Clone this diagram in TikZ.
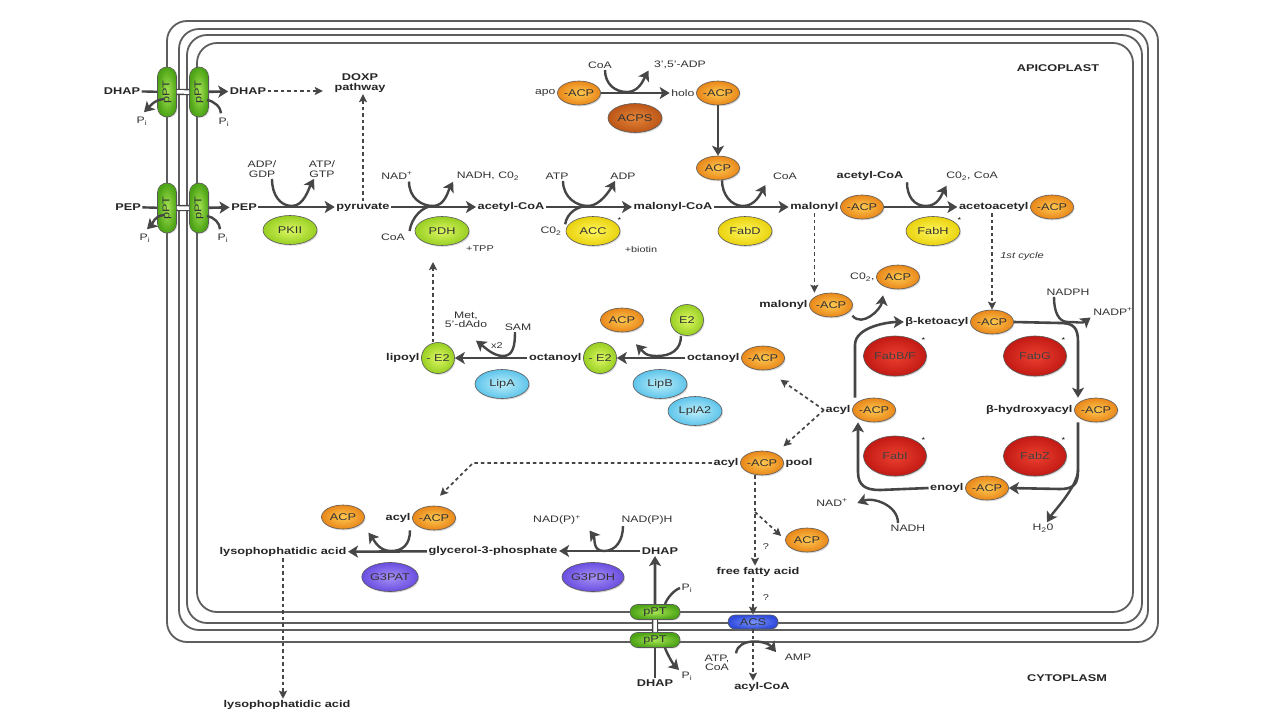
\documentclass[tikz,border=0pt]{standalone}
\usepackage{fontspec}
\setmainfont{Liberation Sans}[FakeStretch=1.3]
\usepackage{xcolor}
\usepackage{tikz}
\usetikzlibrary{arrows.meta,positioning,calc,shapes.geometric,shapes.misc,shadows}

\definecolor{ink}{HTML}{464646}
\definecolor{membr}{HTML}{5E5E5E}
\definecolor{acpL}{HTML}{FFC850}
\definecolor{acpD}{HTML}{E8871A}
\definecolor{acpsL}{HTML}{E58436}
\definecolor{acpsD}{HTML}{BC5618}
\definecolor{limeL}{HTML}{DDF763}
\definecolor{limeD}{HTML}{98CF22}
\definecolor{yelL}{HTML}{FFF65E}
\definecolor{yelD}{HTML}{E9D20E}
\definecolor{redL}{HTML}{EC4030}
\definecolor{redD}{HTML}{C21A14}
\definecolor{skyL}{HTML}{BDEFFB}
\definecolor{skyD}{HTML}{5EC4EA}
\definecolor{violL}{HTML}{A690F6}
\definecolor{violD}{HTML}{6A4EE0}
\definecolor{acsL}{HTML}{7A95F8}
\definecolor{acsD}{HTML}{2F4BDC}
\definecolor{pptL}{HTML}{A6E453}
\definecolor{pptD}{HTML}{4DA416}

\tikzset{
  met label/.style = {font=\fontsize{9.8}{10}\selectfont\bfseries, text=black!85,
                      inner sep=1.5pt, align=center},
  cof label/.style = {font=\fontsize{9.4}{9.4}\selectfont, text=black!80,
                      inner sep=1.5pt, align=center},
  note label/.style= {font=\fontsize{8.4}{9}\selectfont, text=black!80, inner sep=1pt},
  ast/.style       = {font=\fontsize{7}{7}\selectfont, inner sep=0pt},
  blob/.style      = {ellipse, draw=ink!90, line width=0.6pt, inner sep=0pt,
                      font=\fontsize{9.8}{10}\selectfont, text=black!80,
                      drop shadow={opacity=0.3, shadow xshift=1pt, shadow yshift=-1.3pt}},
  acp node/.style  = {blob, minimum width=43pt, minimum height=24pt,
                      inner color=acpL, outer color=acpD},
  enz node/.style  = {blob, minimum width=54pt, minimum height=29pt,
                      inner color=#1L, outer color=#1D},
  fab node/.style  = {blob, minimum width=63pt, minimum height=40pt,
                      inner color=redL, outer color=redD, text=black!75},
  e2 node/.style   = {blob, minimum width=33pt, minimum height=31pt,
                      inner color=limeL, outer color=limeD},
  ppt node/.style  = {rounded rectangle, draw=ink!90, line width=0.6pt, inner sep=0pt,
                      minimum width=50pt, minimum height=19pt,
                      font=\fontsize{9.8}{10}\selectfont, text=black!80,
                      inner color=#1L, outer color=#1D,
                      drop shadow={opacity=0.25, shadow xshift=1pt, shadow yshift=-1pt}},
  membrane/.style  = {draw=membr, line width=1.8pt, rounded corners=20pt},
  arr/.style       = {-{Stealth[length=10pt, width=12pt, inset=2.5pt]}, line width=2.6pt, draw=ink},
  side arr/.style  = {arr, line width=2.4pt},
  side line/.style = {line width=2.4pt, draw=ink},
  dashed arr/.style= {-{Stealth[length=8pt, width=8pt, inset=1.5pt]}, line width=1.7pt,
                      draw=ink, dash pattern=on 3.5pt off 3pt},
  dbl link/.style  = {draw=ink, line width=1.3pt, double=white, double distance=3.5pt},
}

\begin{document}
\begin{tikzpicture}[x=1pt, y=-1pt, font=\fontsize{9.6}{10}\selectfont]
  \useasboundingbox (0,0) rectangle (1280,720);
  \fill[white] (0,0) rectangle (1280,720);

  % four membranes of the apicoplast
  \draw[membrane] (167,21) rectangle (1158,642);
  \draw[membrane] (179,29) rectangle (1148,630);
  \draw[membrane] (187,35) rectangle (1142,623);
  \draw[membrane] (197,43) rectangle (1133,612);

  \node[met label] (apico) at (1058,68) {APICOPLAST};
  \node[met label] (cyto) at (1067,678) {CYTOPLASM};

  % DHAP import
  \node[met label] (dhapo) at (122,91) {DHAP};
  \node[ppt node=ppt, rotate=90] (pta) at (167,92) {pPT};
  \node[ppt node=ppt, rotate=90] (ptb) at (199,92) {pPT};
  \node[met label] (dhapi) at (248,91) {DHAP};
  \node[cof label] (pia) at (142,121) {P\textsubscript{i}};
  \node[cof label] (pib) at (224,122) {P\textsubscript{i}};
  \node[met label] (doxp) at (360,83) {DOXP\\pathway};
  \draw[side line] (dhapo) -- (pta);
  \draw[dbl link] (pta) -- (ptb);
  \draw[arr] (ptb) -- (dhapi);
  \draw[dashed arr] (dhapi) -- ($(dhapi -| doxp.west)+(-10,0)$);
  \draw[side arr] ([shift={(-3,7)}]pta.center) .. controls +(-10,1) and +(6,-6) .. ([shift={(2,-3)}]pia.north);
  \draw[side line] ([shift={(8,8)}]ptb.center) .. controls +(7,1) and +(0,-6) .. ([shift={(-3,-3)}]pib.north);

  % PEP import and PKII
  \node[met label] (pepo) at (128,207) {PEP};
  \node[ppt node=ppt, rotate=90] (ptc) at (167,208) {pPT};
  \node[ppt node=ppt, rotate=90] (ptd) at (199,208) {pPT};
  \node[met label] (pepi) at (244,207) {PEP};
  \node[cof label] (pic) at (145,238) {P\textsubscript{i}};
  \node[cof label] (pid) at (223,238) {P\textsubscript{i}};
  \draw[side line] (pepo) -- (ptc);
  \draw[dbl link] (ptc) -- (ptd);
  \draw[arr] (ptd) -- (pepi);
  \draw[side arr] ([shift={(-3,7)}]ptc.center) .. controls +(-10,1) and +(6,-6) .. ([shift={(2,-3)}]pic.north);
  \draw[side line] ([shift={(8,8)}]ptd.center) .. controls +(7,1) and +(0,-6) .. ([shift={(-3,-3)}]pid.north);

  \node[met label] (pyr) at (363,207) {pyruvate};
  \node[cof label] (adp) at (262,169) {ADP/\\GDP};
  \node[cof label] (atp) at (322,169) {ATP/\\GTP};
  \node[enz node=lime] (pkii) at (290,230) {PKII};
  \coordinate (pkm) at (292,206);
  \draw[arr] (pepi) -- (pyr);
  \draw[side arr] ([xshift=10pt]adp.south) .. controls +(0,16) and +(-12,0) .. (pkm)
        .. controls +(12,0) and +(-5,9) .. ([xshift=-8pt]atp.south);
  \draw[dashed arr] (pyr.north) -- (pyr.north |- doxp.south);

  % PDH
  \node[cof label] (nad1) at (397,176) {NAD\textsuperscript{+}};
  \node[cof label] (nadh1) at (488,176) {NADH, C0\textsubscript{2}};
  \node[cof label] (coa1) at (393,237) {CoA};
  \node[enz node=lime] (pdh) at (442,231) {PDH};
  \node[note label] (tpp) at (480,249) {+TPP};
  \node[met label] (acoa) at (511,207) {acetyl-CoA};
  \coordinate (pdm) at (433,206);
  \draw[arr] (pyr) -- (acoa);
  \draw[side arr] ([xshift=12pt]nad1.south) .. controls +(0,16) and +(-12,0) .. (pdm)
        .. controls +(12,0) and +(-5,9) .. ([xshift=-2pt]nadh1.south west);
  \draw[side line] ([shift={(3,-1)}]coa1.north east) .. controls +(2,-14) and +(-10,0) .. (pdm);

  % ACC
  \node[cof label] (atp2) at (557,176) {ATP};
  \node[cof label] (adp2) at (623,176) {ADP};
  \node[cof label] (co2a) at (551,231) {C0\textsubscript{2}};
  \node[enz node=yel] (acc) at (593,231) {ACC};
  \node[ast] at ([shift={(7,0)}]acc.north east) {*};
  \node[note label] (biot) at (641,249) {+biotin};
  \node[met label] (mcoa) at (673,207) {malonyl-CoA};
  \coordinate (accm) at (588,206);
  \draw[arr] (acoa) -- (mcoa);
  \draw[side arr] ([xshift=6pt]atp2.south) .. controls +(0,16) and +(-12,0) .. (accm)
        .. controls +(12,0) and +(-5,9) .. ([xshift=-8pt]adp2.south);
  \draw[side line] ([shift={(2,-1)}]co2a.north east) .. controls +(2,-12) and +(-10,0) .. (accm);

  % ACPS
  \node[acp node] (apo) at (579,93) {-ACP};
  \node[cof label, left=0pt of apo] (apot) {apo};
  \node[acp node] (holo) at (718,93) {-ACP};
  \node[cof label, left=0pt of holo] (holot) {holo};
  \node[cof label] (coa2) at (600,65) {CoA};
  \node[cof label] (adp35) at (680,65) {3',5'-ADP};
  \node[enz node=acps] (acps) at (635,118) {ACPS};
  \coordinate (acpsm) at (627,92);
  \draw[arr] (apo) -- (holot);
  \draw[side arr] ([xshift=5pt]coa2.south) .. controls +(0,14) and +(-12,0) .. (acpsm)
        .. controls +(12,0) and +(-5,9) .. ([xshift=-4pt]adp35.south west);

  % FabD
  \node[acp node] (acpf) at (718,168) {ACP};
  \node[enz node=yel] (fabd) at (745,231) {FabD};
  \node[cof label] (coa3) at (785,176) {CoA};
  \node[acp node] (malacp) at (862,207) {-ACP};
  \node[met label, left=0pt of malacp] (malt) {malonyl};
  \coordinate (fabdm) at (743,206);
  \draw[arr] (holo) -- (acpf);
  \draw[arr] (mcoa) -- (malt);
  \draw[side arr] ([xshift=4pt]acpf.south) .. controls +(0,14) and +(-12,0) .. (fabdm)
        .. controls +(12,0) and +(-5,9) .. ([shift={(-6,4)}]coa3.south west);

  % FabH
  \node[met label] (acoa2) at (870,176) {acetyl-CoA};
  \node[cof label] (co2coa) at (972,176) {C0\textsubscript{2}, CoA};
  \node[enz node=yel] (fabh) at (933,231) {FabH};
  \node[ast] at ([shift={(7,0)}]fabh.north east) {*};
  \node[acp node] (acacp) at (1052,207) {-ACP};
  \node[met label, left=0pt of acacp] (acact) {acetoacetyl};
  \coordinate (fabhm) at (926,206);
  \draw[arr] (malacp) -- (acact);
  \draw[side arr] ([xshift=2pt]acoa2.south east) .. controls +(0,14) and +(-12,0) .. (fabhm)
        .. controls +(12,0) and +(-5,9) .. ([shift={(2,4)}]co2coa.south west);

  % elongation cycle
  \node[acp node] (mal2acp) at (831,305) {-ACP};
  \node[met label, left=0pt of mal2acp] (mal2t) {malonyl};
  \node[acp node] (co2acp) at (898,277) {ACP};
  \node[cof label, left=0pt of co2acp] (co2t) {C0\textsubscript{2},};
  \node[acp node] (bkacp) at (992,322) {-ACP};
  \node[met label, left=0pt of bkacp] (bkat) {β-ketoacyl};
  \node[cof label] (nadph) at (1068,292) {NADPH};
  \node[cof label] (nadpp) at (1113,312) {NADP\textsuperscript{+}};
  \node[fab node] (fabbf) at (895,356) {FabB/F};
  \node[ast] at ([shift={(6,-2)}]fabbf.north east) {*};
  \node[fab node] (fabg) at (1035,356) {FabG};
  \node[ast] at ([shift={(6,-2)}]fabg.north east) {*};
  \node[acp node] (bhacp) at (1096,410) {-ACP};
  \node[met label, left=0pt of bhacp] (bhat) {β-hydroxyacyl};
  \node[acp node] (acylacp) at (874,410) {-ACP};
  \node[met label, left=0pt of acylacp] (acylt) {acyl};
  \node[fab node] (fabi) at (895,456) {FabI};
  \node[ast] at ([shift={(6,-2)}]fabi.north east) {*};
  \node[fab node] (fabz) at (1035,456) {FabZ};
  \node[ast] at ([shift={(6,-2)}]fabz.north east) {*};
  \node[acp node] (enacp) at (987,488) {-ACP};
  \node[met label, left=0pt of enacp] (ent) {enoyl};
  \node[cof label] (nad2) at (832,503) {NAD\textsuperscript{+}};
  \node[cof label] (nadh2) at (908,528) {NADH};
  \node[cof label] (h2o) at (1043,528) {H\textsubscript{2}0};
  \node[note label, font=\fontsize{8.6}{9}\selectfont\itshape] (cyc) at (1022,256) {1st cycle};

  \draw[dashed arr] (malt.south) -- (malt.south |- mal2acp.north);
  \draw[dashed arr] (acact.south -| bkacp) -- (bkacp.north);

  \coordinate (kturn) at (855,345);
  \coordinate (gturn) at (1078,342);
  \coordinate (zturn) at (1078,470);
  \coordinate (iturn) at (858,472);
  \draw[arr] ([xshift=-19pt]acylacp.north) -- (kturn) .. controls +(0,-18) and +(-16,0) .. (bkat.west);
  \draw[side arr] ([shift={(6,2)}]mal2acp.south east) .. controls +(10,12) and +(-2,14) .. ([shift={(-15,6)}]co2acp.south);
  \draw[arr] (bkacp.east) -- (1060,323) .. controls +(14,0) and +(0,-14) .. (gturn) -- ([xshift=-18pt]bhacp.north);
  \coordinate (gm) at (1068,322);
  \draw[side arr] ([xshift=-14pt]nadph.south) .. controls +(0,14) and +(-10,0) .. (gm)
        .. controls +(10,0) and +(-8,6) .. ([xshift=-1pt]nadpp.south west);
  \draw[arr] ([xshift=-18pt]bhacp.south) -- (zturn) .. controls +(0,14) and +(14,0) .. (1060,489) -- (enacp.east);
  \draw[side arr] (zturn) .. controls +(0,16) and +(6,-10) .. ([xshift=4pt]h2o.north);
  \draw[arr] (ent.west) -- (880,490) .. controls +(-14,0) and +(0,14) .. (iturn) -- ([xshift=-16pt]acylacp.south);
  \draw[side arr] ([xshift=-10pt]nadh2.north) .. controls +(0,-18) and +(16,-6) .. ([xshift=8pt]nad2.east);

  % lipoylation
  \node[acp node] (octacp) at (763,358) {-ACP};
  \node[met label, left=0pt of octacp] (octt) {octanoyl};
  \node[e2 node] (octe2) at (600,358) {- E2};
  \node[met label, left=0pt of octe2] (oct2t) {octanoyl};
  \node[acp node] (acplb) at (622,320) {ACP};
  \node[e2 node] (e2f) at (687,320) {E2};
  \node[enz node=sky] (lipb) at (660,384) {LipB};
  \node[enz node=sky] (lpla) at (695,411) {LplA2};
  \node[e2 node] (lipe2) at (438,358) {- E2};
  \node[met label, left=0pt of lipe2] (lipt) {lipoyl};
  \node[enz node=sky] (lipa) at (502,384) {LipA};
  \node[cof label] (metd) at (466,320) {Met,\\5'-dAdo};
  \node[cof label] (sam) at (518,327) {SAM};
  \node[note label] (x2) at (497,346) {x2};
  \coordinate (lbm) at (657,356);
  \coordinate (lam) at (503,356);
  \coordinate (pdhin) at (433,262);
  \draw[arr] (octt) -- (octe2);
  \draw[arr] (oct2t) -- (lipe2);
  \draw[side arr] ([xshift=-6pt]e2f.south) .. controls +(0,14) and +(14,0) .. (lbm)
        .. controls +(-12,0) and +(8,8) .. ([shift={(14,12)}]acplb.south);
  \draw[side arr] ([xshift=-3pt]sam.south) .. controls +(0,14) and +(10,0) .. (lam)
        .. controls +(-10,0) and +(8,6) .. ([shift={(10,11)}]metd.south);
  \draw[dashed arr] (lipe2.north -| pdhin) -- (pdhin);

  % acyl-ACP pool
  \node[acp node] (poolacp) at (762,463) {-ACP};
  \node[met label, left=0pt of poolacp] (poolt) {acyl};
  \node[met label, right=0pt of poolacp] (poolr) {pool};
  \node[acp node] (acyl3acp) at (434,518) {-ACP};
  \node[met label, left=0pt of acyl3acp] (acyl3t) {acyl};
  \node[acp node] (acp3) at (343,517) {ACP};
  \node[acp node] (acpq) at (807,540) {ACP};
  \node[met label] (ffa) at (758,572) {free fatty acid};
  \node[note label] (q1) at (766,547) {?};
  \node[note label] (q2) at (766,598) {?};
  \coordinate (poolbend) at (473,463);
  \coordinate (poolbr) at (755,512);
  \draw[dashed arr] (acylt.west) -- ([shift={(2,13)}]octacp.south east);
  \draw[dashed arr] (acylt.west) -- ([shift={(6,-8)}]poolacp.north east);
  \draw[dashed arr] (poolt.west) -- (poolbend) -- ([shift={(6,-10)}]acyl3acp.north);
  \draw[dashed arr] ([xshift=-7pt]poolacp.south) -- ([xshift=-7pt]poolacp.south |- ffa.north);
  \draw[dashed arr] (poolbr) -- ([shift={(-4,-4)}]acpq.west);

  % lysophosphatidic acid synthesis
  \node[met label] (lyso) at (283,552) {lysophophatidic acid};
  \node[enz node=viol] (g3pat) at (390,577) {G3PAT};
  \node[met label] (g3p) at (493,551) {glycerol-3-phosphate};
  \node[cof label] (nadpp2) at (557,520) {NAD(P)\textsuperscript{+}};
  \node[cof label] (nadph2) at (647,520) {NAD(P)H};
  \node[enz node=viol] (g3pdh) at (593,577) {G3PDH};
  \node[met label] (dhapb) at (660,551) {DHAP};
  \node[met label] (lyso2) at (287,705) {lysophophatidic acid};
  \coordinate (g3patm) at (391,551);
  \coordinate (g3pdhm) at (604,551);
  \draw[arr] (g3p) -- (lyso);
  \draw[arr] (dhapb) -- (g3p);
  \draw[side arr] ([xshift=-24pt]acyl3acp.south) .. controls +(0,14) and +(12,0) .. (g3patm)
        .. controls +(-12,0) and +(6,8) .. ([shift={(10,7)}]acp3.south east);
  \draw[side arr] ([xshift=-24pt]nadph2.south) .. controls +(0,14) and +(12,0) .. (g3pdhm)
        .. controls +(-12,0) and +(6,8) .. ([shift={(7,4)}]nadpp2.south east);
  \draw[dashed arr] (lyso.south) -- (lyso.south |- lyso2.north);

  % DHAP import, bottom
  \node[ppt node=ppt, minimum height=15pt] (pbt1) at (655,612) {pPT};
  \node[ppt node=ppt, minimum height=15pt] (pbt2) at (655,640) {pPT};
  \node[met label] (dhapc) at (655,683) {DHAP};
  \node[cof label] (pib1) at (687,588) {P\textsubscript{i}};
  \node[cof label] (pib2) at (687,676) {P\textsubscript{i}};
  \draw[side line] (dhapc) -- (pbt2);
  \draw[dbl link] (pbt2) -- (pbt1);
  \draw[arr] (pbt1) -- (pbt1 |- dhapb.south);
  \draw[side line] ([xshift=10pt]pbt1.north) .. controls +(2,-6) and +(-6,2) .. (pib1.west);
  \draw[side arr] ([xshift=10pt]pbt2.south) .. controls +(2,6) and +(-6,-6) .. ([shift={(-1,-6)}]pib2.west);

  % ACS
  \node[ppt node=acs, minimum height=14pt] (acs) at (753,622) {ACS};
  \node[met label] (acylcoa) at (762,687) {acyl-CoA};
  \node[cof label] (atpcoa) at (717,663) {ATP,\\CoA};
  \node[cof label] (amp) at (798,657) {AMP};
  \draw[dashed arr] (ffa.south -| acs) -- (acs.north);
  \draw[dashed arr] (acs.south) -- (acs.south |- acylcoa.north);
  \draw[side arr] ([xshift=5pt]atpcoa.north east) .. controls +(2,-16) and +(-10,-12) .. ([xshift=-7pt]amp.north west);
\end{tikzpicture}
\end{document}
